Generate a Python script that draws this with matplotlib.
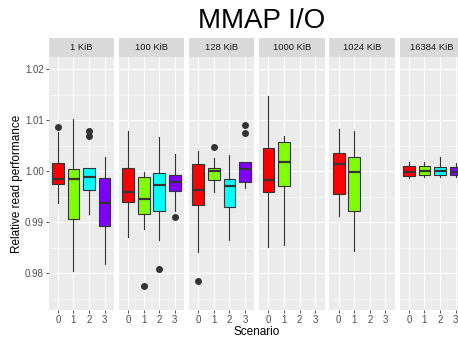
import matplotlib
matplotlib.use("Agg")
import matplotlib.pyplot as plt
from matplotlib.ticker import MultipleLocator, FixedLocator

plt.rcParams["font.family"] = ["Liberation Sans", "DejaVu Sans"]

facets = ["1 KiB", "100 KiB", "128 KiB", "1000 KiB", "1024 KiB", "16384 KiB"]
scenarios = ["0", "1", "2", "3"]
fill_colors = ["#FF0000", "#80FF00", "#00FFFF", "#8000FF"]

# Box statistics per facet (rows) and scenario (columns); None = no data
med = [
    [0.99856, 0.99856, 0.99889, 0.99379],
    [0.99588, 0.99464, 0.99725, 0.99791],
    [0.99641, 1.00012, 0.99712, 1.00046],
    [0.99830, 1.00190, None, None],
    [1.00150, 0.99980, None, None],
    [0.99993, 1.00006, 1.00000, 0.99980],
]
q1 = [
    [0.99752, 0.99059, 0.99641, 0.98935],
    [0.99405, 0.99170, 0.99229, 0.99608],
    [0.99340, 0.99830, 0.99300, 0.99784],
    [0.99595, 0.99719, None, None],
    [0.99556, 0.99229, None, None],
    [0.99908, 0.99922, 0.99922, 0.99922],
]
q3 = [
    [1.00170, 1.00040, 1.00060, 0.99876],
    [1.00072, 0.99882, 0.99967, 0.99935],
    [1.00144, 1.00072, 0.99850, 1.00176],
    [1.00458, 1.00582, None, None],
    [1.00366, 1.00281, None, None],
    [1.00104, 1.00104, 1.00078, 1.00090],
]
whislo = [
    [0.99386, 0.98052, 0.99163, 0.98183],
    [0.98719, 0.98863, 0.98647, 0.99229],
    [0.98412, 0.99595, 0.98654, 0.99667],
    [0.98510, 0.98556, None, None],
    [0.99124, 0.98438, None, None],
    [0.99869, 0.99882, 0.99895, 0.99882],
]
whishi = [
    [1.00778, 1.01020, 1.00060, 1.00275],
    [1.00797, 0.99993, 1.00667, 1.00333],
    [1.00405, 1.00268, 1.00320, 1.00176],
    [1.01477, 1.00693, None, None],
    [1.00830, 1.00797, None, None],
    [1.00182, 1.00182, 1.00274, 1.00157],
]
fliers = [
    [[1.00863], [], [1.00784, 1.00693], []],
    [[], [0.97752], [0.98092], [0.99111]],
    [[0.97856], [1.00471], [], [1.00908, 1.00752]],
    [[], [], [], []],
    [[], [], [], []],
    [[], [], [], []],
]
y_ticks = [0.98, 0.99, 1.00, 1.01, 1.02]
y_limits = (0.9728, 1.0224)

W, H = 458, 337
fig = plt.figure(figsize=(W / 100, H / 100), dpi=100)

def fx(px):
    return px / W

def fy(py):
    return 1 - py / H

panel_left, panel_w, panel_step = 48.5, 65.5, 70.2
panel_top, panel_bottom, strip_top = 57.0, 310.0, 38.0

for i, facet in enumerate(facets):
    left = panel_left + i * panel_step
    ax = fig.add_axes([fx(left), fy(panel_bottom), panel_w / W,
                       (panel_bottom - panel_top) / H])
    ax.set_facecolor("#EBEBEB")
    for s in ax.spines.values():
        s.set_visible(False)
    ax.set_xlim(-0.6, 3.6)
    ax.set_ylim(*y_limits)
    ax.yaxis.set_major_locator(FixedLocator(y_ticks))
    ax.yaxis.set_minor_locator(MultipleLocator(0.005))
    ax.xaxis.set_major_locator(FixedLocator(range(len(scenarios))))
    ax.set_xticklabels(scenarios)
    ax.grid(True, which="major", color="white", linewidth=0.8)
    ax.grid(True, which="minor", axis="y", color="white", linewidth=0.4)
    ax.set_axisbelow(True)
    ax.tick_params(axis="both", which="major", length=2.0, width=0.6,
                   color="#333333", labelcolor="#4D4D4D", labelsize=7.0, pad=1.5)
    ax.tick_params(axis="y", which="minor", length=0)
    if i == 0:
        ax.set_yticklabels([f"{v:.2f}" for v in y_ticks])
    else:
        ax.tick_params(axis="y", which="major", length=0, labelleft=False)

    stats, positions, colors = [], [], []
    for j in range(len(scenarios)):
        if med[i][j] is None:
            continue
        stats.append(dict(med=med[i][j], q1=q1[i][j], q3=q3[i][j],
                          whislo=whislo[i][j], whishi=whishi[i][j],
                          fliers=fliers[i][j]))
        positions.append(j)
        colors.append(fill_colors[j])
    art = ax.bxp(stats, positions=positions, widths=0.75, patch_artist=True,
                 showcaps=False, manage_ticks=False,
                 boxprops=dict(edgecolor="#333333", linewidth=0.8),
                 medianprops=dict(color="#333333", linewidth=1.6),
                 whiskerprops=dict(color="#333333", linewidth=0.8),
                 flierprops=dict(marker="o", markersize=4.0,
                                 markerfacecolor="#333333",
                                 markeredgecolor="#333333"))
    for patch, c in zip(art["boxes"], colors):
        patch.set_facecolor(c)

    sax = fig.add_axes([fx(left), fy(panel_top), panel_w / W,
                        (panel_top - strip_top) / H])
    sax.set_facecolor("#D9D9D9")
    sax.set_xticks([])
    sax.set_yticks([])
    for s in sax.spines.values():
        s.set_visible(False)
    sax.text(0.5, 0.5, facet, transform=sax.transAxes, ha="center",
             va="center", fontsize=6.8, color="#1A1A1A")

fig.text(fx(262), fy(28.3), "MMAP I/O", ha="center", va="baseline",
         fontsize=20, color="black")
fig.text(fx(17), fy((panel_top + panel_bottom) / 2),
         "Relative read performance", rotation=90, ha="center",
         va="center", fontsize=8.5, color="black")
fig.text(fx(256.7), fy(335), "Scenario", ha="center", va="baseline",
         fontsize=8.5, color="black")

fig.savefig("out.png", dpi=100)
